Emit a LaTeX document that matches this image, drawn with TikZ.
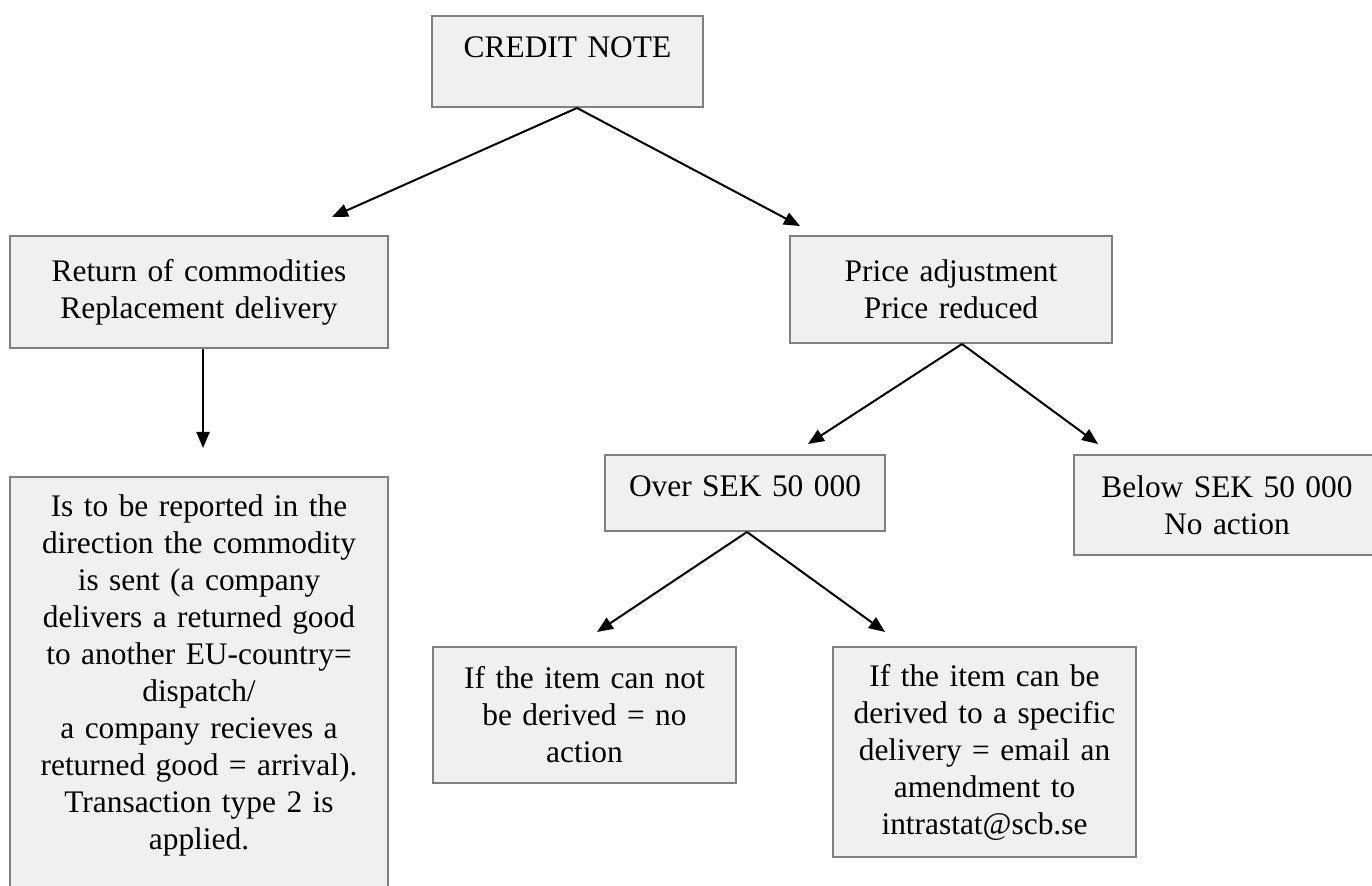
\documentclass[tikz,border=0pt]{standalone}
\usepackage{fontspec}
\setmainfont{Liberation Serif}
\usetikzlibrary{arrows.meta}

\definecolor{boxfill}{HTML}{F0F0F0}
\definecolor{boxline}{HTML}{808080}
\newcommand{\lowpad}[1]{\rule[-#1]{0pt}{#1}}

\tikzset{
  card/.style={draw=boxline, line width=1pt, fill=boxfill, align=center,
    font=\fontsize{15.7}{18.5}\selectfont, inner sep=0pt},
  link/.style={-{Triangle[length=8pt,width=6.5pt]}, line width=1pt},
}

\begin{document}
\begin{tikzpicture}[x=0.5pt, y=-0.5pt]
    \useasboundingbox (0,0) rectangle (1372,886);
    \clip (0,0) rectangle (1372,886);

    % Boxes
    \node[card, text width=135.5pt, minimum height=45.5pt] (credit) at (567.5,61.5)
        {CREDIT NOTE\lowpad{14.5pt}};
    \node[card, text width=189pt, minimum height=56pt] (ret) at (199,292)
        {Return of commodities\\ Replacement delivery};
    \node[card, text width=161pt, minimum height=53.5pt] (price) at (951,289.5)
        {Price adjustment\\ Price reduced};
    \node[card, text width=189pt, minimum height=212pt, anchor=north] (report) at (199,476)
        {Is to be reported in the\\ direction the commodity\\ is sent (a company\\
         delivers a returned good\\ to another EU-country=\\ dispatch/\\
         a company recieves a\\ returned good = arrival).\\ Transaction type 2 is\\
         applied.\lowpad{17pt}};
    \node[card, text width=140pt, minimum height=38pt] (over) at (745,493)
        {Over SEK 50 000\lowpad{7pt}};
    \node[card, text width=153pt, minimum height=50pt] (below) at (1227,505)
        {Below SEK 50 000\\ No action};
    \node[card, text width=151.5pt, minimum height=68pt] (cannot) at (584.5,715)
        {If the item can not\\ be derived = no\\ action};
    \node[card, text width=151.5pt, minimum height=105pt] (derived) at (984.5,752)
        {If the item can be\\ derived to a specific\\ delivery = email an\\
         amendment to\\ intrastat@scb.se};

    % Arrow ends
    \coordinate (retIn) at (332,217);
    \coordinate (priceIn) at (800,226);
    \coordinate (reportIn) at (203,448);
    \coordinate (overIn) at (808,444);
    \coordinate (belowIn) at (1098,444);
    \coordinate (cannotIn) at (597,632);
    \coordinate (derivedIn) at (885,632);

    % Arrows
    \draw[link] ([xshift=4.75pt]credit.south) -- (retIn);
    \draw[link] ([xshift=4.75pt]credit.south) -- (priceIn);
    \draw[link] ([xshift=2pt]ret.south) -- (reportIn);
    \draw[link] ([xshift=5.5pt]price.south) -- (overIn);
    \draw[link] ([xshift=5.5pt]price.south) -- (belowIn);
    \draw[link] ([xshift=1pt]over.south) -- (cannotIn);
    \draw[link] ([xshift=1pt]over.south) -- (derivedIn);
\end{tikzpicture}
\end{document}
